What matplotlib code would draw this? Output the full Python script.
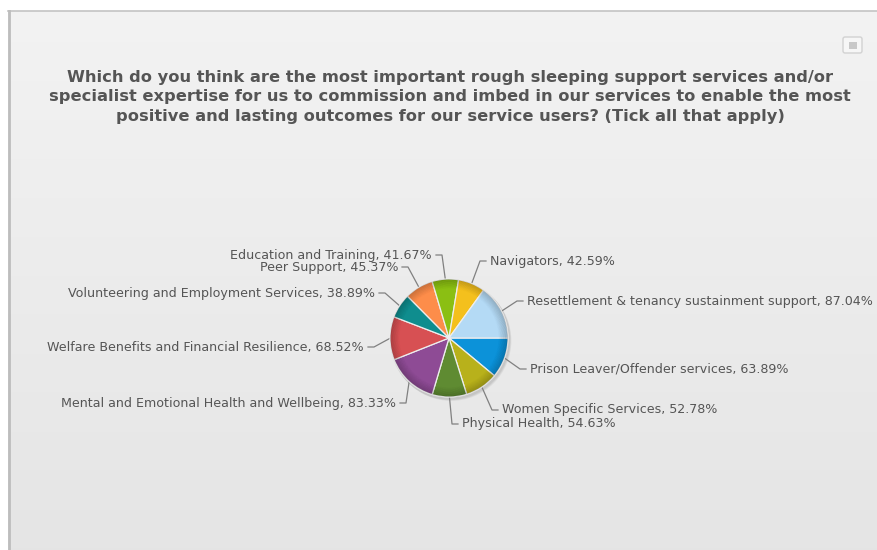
import numpy as np
import matplotlib.pyplot as plt
from matplotlib.patches import Wedge, Circle, Rectangle, FancyBboxPatch

# survey answers, clockwise from 3 o'clock
services = [
    "Prison Leaver/Offender services",
    "Women Specific Services",
    "Physical Health",
    "Mental and Emotional Health and Wellbeing",
    "Welfare Benefits and Financial Resilience",
    "Volunteering and Employment Services",
    "Peer Support",
    "Education and Training",
    "Navigators",
    "Resettlement & tenancy sustainment support",
]
percents = [63.89, 52.78, 54.63, 83.33, 68.52, 38.89, 45.37, 41.67, 42.59, 87.04]
colors = ["#0c92d9", "#b8b11b", "#5f8b32", "#8e4b95", "#d75053",
          "#0f8d8e", "#fd8d4a", "#8bbf13", "#f4c01d", "#b4daf5"]

title = ("Which do you think are the most important rough sleeping support services and/or\n"
         "specialist expertise for us to commission and imbed in our services to enable the most\n"
         "positive and lasting outcomes for our service users? (Tick all that apply)")

# label anchors in pixel space (x, y from top), +1 = text to the right
label_pos = [(530, 369, 1), (502, 410, 1), (462, 424, 1), (396, 403, -1), (364, 347, -1),
             (375, 293, -1), (398, 267, -1), (432, 255, -1), (490, 261, 1), (527, 301, 1)]

W, H = 877, 550
fig = plt.figure(figsize=(W / 100, H / 100), dpi=100)
fig.patch.set_facecolor("white")
ax = fig.add_axes([0, 0, 1, 1])
ax.set_xlim(0, W)
ax.set_ylim(0, H)
ax.set_aspect("equal")
ax.axis("off")

# panel background with a soft vertical gradient
grad = np.linspace(0, 1, 256).reshape(-1, 1)
top = np.array([0.952, 0.952, 0.952])
bot = np.array([0.898, 0.898, 0.898])
img = top + (bot - top) * grad[..., None]
ax.imshow(img, extent=(8, W + 2, 0, H - 11), aspect="auto", zorder=0, origin="upper")
ax.plot([8, W + 2], [H - 11, H - 11], color="#c4c4c4", lw=1.2, zorder=1)
ax.plot([8.5, 8.5], [0, H - 11], color="#bdbdbd", lw=2, zorder=1)

# menu button at top right
ax.add_patch(FancyBboxPatch((843, H - 53), 19, 16, boxstyle="round,pad=0,rounding_size=2",
                            fc="#f6f6f6", ec="#d2d2d2", lw=1, zorder=2))
ax.add_patch(Rectangle((849, H - 49), 8, 7, fc="#c8c8c8", ec="none", zorder=3))

ax.text(450, H - 97, title, ha="center", va="center", fontsize=11.7, fontweight="bold",
        color="#555555", linespacing=1.38, zorder=3)

cx, cy, R = 449, H - 338, 59

# drop shadow
for i, a in enumerate([0.05, 0.05, 0.05]):
    ax.add_patch(Circle((cx + 1 + i * 0.6, cy - 1.5 - i * 0.6), R + 1.2, fc="black",
                        alpha=a, ec="none", zorder=2))

wedges, _ = ax.pie(percents, colors=colors, startangle=0, counterclock=False,
                   center=(cx, cy), radius=R, frame=True,
                   wedgeprops=dict(edgecolor="#eeeeee", linewidth=0.9, zorder=4))
ax.set_xlim(0, W)
ax.set_ylim(0, H)
ax.axis("off")

# darker rim to give the pie a rounded look
n = 14
for k in range(n):
    ax.add_patch(Wedge((cx, cy), R * (0.84 + 0.16 * (k + 1) / n), 0, 360,
                       width=R * 0.16 / n + 0.3, fc="black", ec="none",
                       alpha=0.012 * (k + 1) ** 1.1 / 1.5, zorder=5))

# connectors and labels
for w, name, val, (tx, ty, side) in zip(wedges, services, percents, label_pos):
    mid = np.deg2rad((w.theta1 + w.theta2) / 2)
    ex, ey = cx + R * np.cos(mid), cy + R * np.sin(mid)
    ty = H - ty
    xs = [ex, tx - side * 10, tx - side * 4]
    ys = [ey, ty, ty]
    ax.plot(xs, ys, color="#808080", lw=0.9, zorder=3)
    ax.text(tx, ty, f"{name}, {val:.2f}%", ha="left" if side > 0 else "right",
            va="center", fontsize=9.1, color="#555555", zorder=6)

fig.savefig("out.png", dpi=100)
